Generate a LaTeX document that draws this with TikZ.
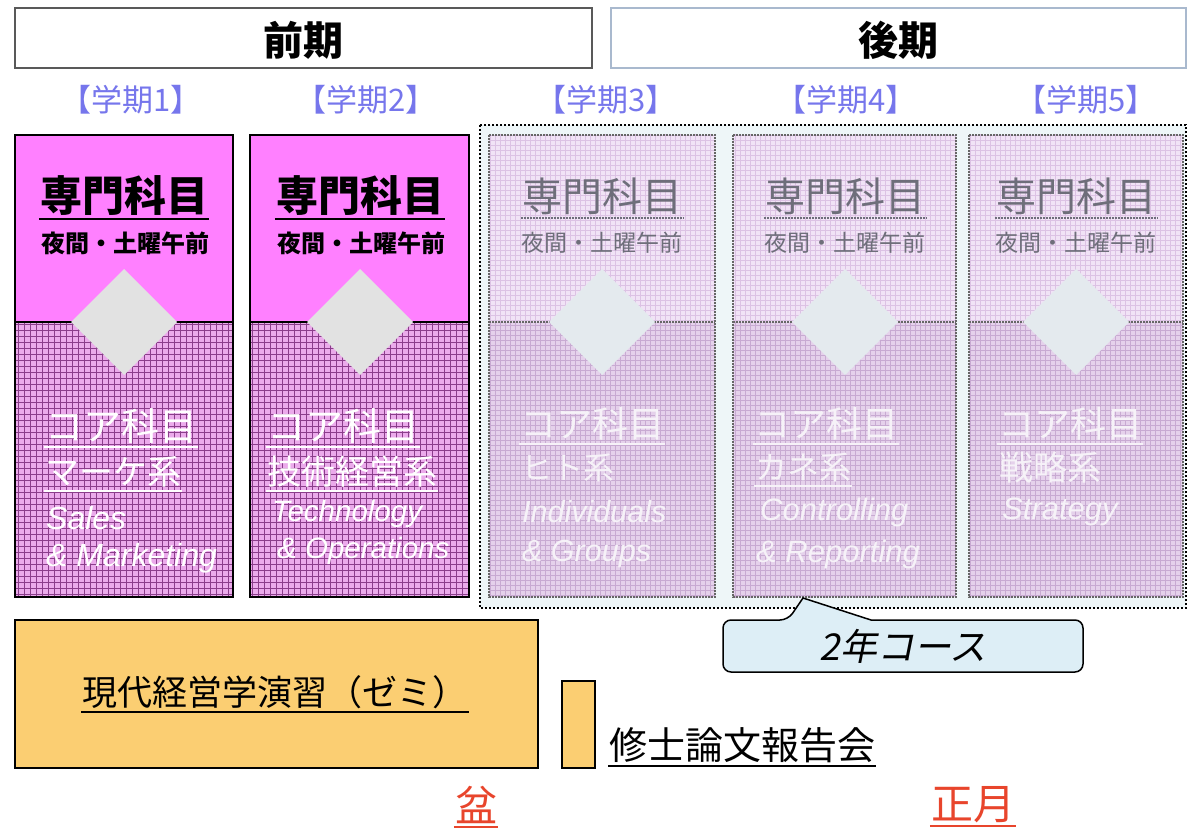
\documentclass[tikz,border=0pt]{standalone}
\usepackage{fontspec}
\setmainfont{Noto Sans CJK JP}
\newfontfamily\jpsl{Noto Sans CJK JP}[FakeSlant=0.2]
\newfontfamily\en{Liberation Sans}
\definecolor{pinkTop}{HTML}{FF80FF}
\definecolor{gridBg}{HTML}{EBAAEB}
\definecolor{gridLn}{HTML}{8B3D8B}
\definecolor{fadeTop}{HTML}{F1E3F6}
\definecolor{fadeGrid}{HTML}{DCC2E4}
\definecolor{fadeBot}{HTML}{E5D1EB}
\definecolor{fadeGridB}{HTML}{C8AAD2}
\definecolor{outerBg}{HTML}{EEF6F8}
\definecolor{semTxt}{HTML}{7676EC}
\definecolor{seminar}{HTML}{FBCE72}
\definecolor{callout}{HTML}{DDEEF6}
\definecolor{redTxt}{HTML}{E8452C}
\definecolor{diaA}{HTML}{E2E2E2}
\definecolor{diaB}{HTML}{E4EAEE}
\definecolor{fadeTxt}{HTML}{6E6E7A}
\definecolor{fadeWh}{HTML}{F6F2F8}
\definecolor{hdrBline}{HTML}{A9B9CE}
\begin{document}
\begin{tikzpicture}[x=1pt,y=-1pt,
  fs/.style={font=\fontsize{#1}{#1}\selectfont, inner sep=0pt},
  ult/.style={inner xsep=1pt, inner ysep=3pt},
  ul/.style={line width=2pt, line cap=butt},
  hdrA/.style={draw=black!65, line width=1.5pt},
  hdrB/.style={draw=hdrBline, line width=1.5pt},
  boxline/.style={line width=2pt},
  fadeline/.style={draw=black!60, dashed, line width=1.2pt, dash pattern=on 2pt off 1pt},
]
\useasboundingbox (0,0) rectangle (1188,834);

% ---- header
\draw[hdrA] (15,8) rectangle (592,68);
\node[fs=40] (zenki) at (303.5,40) {\bfseries 前期};
\draw[hdrB] (611,8) rectangle (1186,68);
\node[fs=40] (kouki) at (898,40) {\bfseries 後期};

\foreach \x/\n in {131/1,366/2,606/3,846/4,1086/5}
  \node[fs=31, text=semTxt] (g\n) at (\x,100) {【学期\n】};

% ---- outer dotted region
\fill[outerBg] (480,125) rectangle (1186,608);

% ---- box 1 and 2
\foreach \l/\r/\c in {15/233/124, 250/469/360}{
  \fill[pinkTop] (\l,135) rectangle (\r,322);
  \fill[gridBg] (\l,322) rectangle (\r,597);
  \begin{scope}
    \clip (\l,597) rectangle (\r,322);
    \draw[gridLn, line width=0.7pt, step=6pt] (\l,600) grid (\r,320);
  \end{scope}
  \draw[boxline] (\l,135) rectangle (\r,597);
  \draw[boxline] (\l,322) -- (\r,322);
  \fill[diaA] (\c,269) -- (\c+53,322) -- (\c,375) -- (\c-53,322) -- cycle;
}
\node[fs=42, ult] (s1) at (124,196) {\bfseries 専門科目};
\draw[ul] (s1.south west) -- (s1.south east);
\node[fs=24] (t1) at (125,243) {\bfseries 夜間・土曜午前};
\node[fs=42, ult] (s2) at (360,196) {\bfseries 専門科目};
\draw[ul] (s2.south west) -- (s2.south east);
\node[fs=24] (t2) at (361,243) {\bfseries 夜間・土曜午前};

\node[fs=38, ult, text=white, anchor=west] (c1) at (44,426) {コア科目};
\draw[ul, white] (c1.south west) -- (c1.south east);
\node[fs=34, ult, text=white, anchor=west] (k1) at (44,472) {マーケ系};
\draw[ul, white] (k1.south west) -- (k1.south east);
\node[fs=32, text=white, anchor=west] (e1a) at (46,518) {\en\itshape Sales};
\node[fs=32, text=white, anchor=west] (e1b) at (46,558) {\en\itshape \& Marketing};

\node[fs=38, ult, text=white, anchor=west] (c2) at (266,426) {コア科目};
\draw[ul, white] (c2.south west) -- (c2.south east);
\node[fs=34, ult, text=white, anchor=west] (k2) at (266,472) {技術経営系};
\draw[ul, white] (k2.south west) -- (k2.south east);
\node[fs=29.5, text=white, anchor=west] (e2a) at (272,514) {\en\itshape Technology};
\node[fs=29.5, text=white, anchor=west] (e2b) at (277,551) {\en\itshape \& Operations};

% ---- faded boxes 3-5
\foreach \l/\r/\c/\n in {489/715/602/3, 733/956/845/4, 969/1183/1076/5}{
  \fill[fadeTop] (\l,135) rectangle (\r,322);
  \fill[fadeBot] (\l,322) rectangle (\r,597);
  \begin{scope}
    \clip (\l,322) rectangle (\r,135);
    \draw[fadeGrid, line width=0.5pt, step=5pt] (\l,325) grid (\r,130);
  \end{scope}
  \begin{scope}
    \clip (\l,597) rectangle (\r,322);
    \draw[fadeGridB, line width=0.7pt, step=5pt] (\l,600) grid (\r,320);
  \end{scope}
  \draw[fadeline] (\l,135) rectangle (\r,597);
  \draw[fadeline] (\l,322) -- (\r,322);
  \fill[diaB] (\c,269) -- (\c+53,322) -- (\c,375) -- (\c-53,322) -- cycle;
  \node[fs=40, ult, text=fadeTxt] (s\n) at (\c,196) {専門科目};
  \draw[ul, fadeTxt, dashed, dash pattern=on 2pt off 1pt] (s\n.south west) -- (s\n.south east);
  \node[fs=23, text=fadeTxt] (t\n) at (\c,243) {夜間・土曜午前};
}
\draw[dotted, line width=2pt] (480,125) rectangle (1186,608);

\node[fs=36, ult, text=fadeWh, anchor=west] (c3) at (519,424) {コア科目};
\draw[ul, fadeWh] (c3.south west) -- (c3.south east);
\node[fs=31, ult, text=fadeWh, anchor=west] (k3) at (520,468) {ヒト系};
\node[fs=30.5, text=fadeWh, anchor=west] (e3a) at (522,512) {\en\itshape Individuals};
\node[fs=30.5, text=fadeWh, anchor=west] (e3b) at (522,554) {\en\itshape \& Groups};

\node[fs=36, ult, text=fadeWh, anchor=west] (c4) at (753,424) {コア科目};
\draw[ul, fadeWh] (c4.south west) -- (c4.south east);
\node[fs=32, ult, text=fadeWh, anchor=west] (k4) at (754,468) {カネ系};
\draw[ul, fadeWh] (k4.south west) -- (k4.south east);
\node[fs=31, text=fadeWh, anchor=west] (e4a) at (760,512) {\en\itshape Controlling};
\node[fs=31, text=fadeWh, anchor=west] (e4b) at (756,554) {\en\itshape \& Reporting};

\node[fs=36, ult, text=fadeWh, anchor=west] (c5) at (997,424) {コア科目};
\draw[ul, fadeWh] (c5.south west) -- (c5.south east);
\node[fs=34, ult, text=fadeWh, anchor=west] (k5) at (998,468) {戦略系};
\node[fs=31, text=fadeWh, anchor=west] (e5a) at (1002,512) {\en\itshape Strategy};

% ---- callout
\draw[fill=callout, line width=1.5pt, rounded corners=8pt]
  (723,620) -- (788,620) [sharp corners] -- (803,598) -- (871,620) [rounded corners=8pt]
  -- (1083,620) -- (1083,672) -- (723,672) -- cycle;
\node[fs=37] (course) at (903,646) {\jpsl 2年コース};

% ---- seminar
\draw[fill=seminar, line width=2pt] (15,620) rectangle (538,768);
\node[fs=35, ult] (zemi) at (275,692) {現代経営学演習（ゼミ）};
\draw[ul] (zemi.south west) -- (zemi.south east);
\draw[fill=seminar, line width=2pt] (562,681) rectangle (595,768);
\node[fs=38, ult, anchor=west] (ron) at (608,745) {修士論文報告会};
\draw[ul] (ron.south west) -- (ron.south east);

% ---- bottom labels
\node[fs=42, ult, text=redTxt] (bon) at (476,805) {盆};
\draw[ul, redTxt] (bon.south west) -- (bon.south east);
\node[fs=42, ult, text=redTxt] (shou) at (973,805) {正月};
\draw[ul, redTxt] (shou.south west) -- (shou.south east);
\end{tikzpicture}
\end{document}
